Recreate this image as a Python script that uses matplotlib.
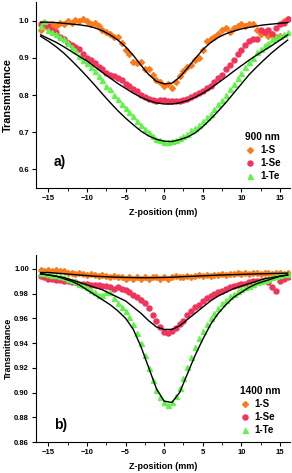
import numpy as np
import matplotlib
matplotlib.use('Agg')
import matplotlib.pyplot as plt

plt.rcParams['font.family'] = ['Liberation Sans', 'DejaVu Sans']

#scan positions (mm)
z_data = np.arange(-16, 16.01, 0.5)
z_fit = np.arange(-16, 16.01, 1.0)

#900 nm measured points
s900 = [0.975, 0.985, 0.98, 0.99, 0.985, 0.995, 0.99, 1.0, 0.995, 1.002, 0.998, 1.005, 1.0,
        0.99, 0.995, 0.985, 0.975, 0.97, 0.965, 0.955, 0.955, 0.94, 0.92, 0.91, 0.89, 0.885,
        0.89, 0.87, 0.87, 0.855, 0.84, 0.835, 0.825, 0.83, 0.82, 0.835, 0.85, 0.865, 0.875,
        0.88, 0.895, 0.9, 0.92, 0.945, 0.95, 0.955, 0.965, 0.975, 0.98, 0.97, 0.98, 0.985,
        0.99, 0.985, 0.99, 0.99, 0.975, 0.965, 0.97, 0.96, 0.965, 0.955, 0.96, 1.0, 1.005]
se900 = [0.99, 0.995, 0.985, 0.975, 0.97, 0.955, 0.95, 0.94, 0.935, 0.93, 0.925, 0.91, 0.9,
         0.895, 0.885, 0.875, 0.87, 0.86, 0.855, 0.85, 0.845, 0.84, 0.83, 0.825, 0.815, 0.81,
         0.8, 0.795, 0.79, 0.786, 0.785, 0.787, 0.786, 0.785, 0.783, 0.784, 0.785, 0.788, 0.79,
         0.795, 0.8, 0.805, 0.81, 0.818, 0.825, 0.835, 0.845, 0.855, 0.87, 0.88, 0.895, 0.91,
         0.92, 0.935, 0.945, 0.95, 0.95, 0.975, 0.97, 0.975, 0.965, 0.98, 0.99, 0.995, 1.005]
te900 = [0.985, 1.0, 0.975, 0.97, 0.965, 0.955, 0.95, 0.94, 0.93, 0.92, 0.905, 0.895, 0.885,
         0.875, 0.865, 0.85, 0.84, 0.825, 0.815, 0.8, 0.79, 0.775, 0.765, 0.755, 0.745, 0.73,
         0.72, 0.71, 0.7, 0.69, 0.683, 0.678, 0.675, 0.675, 0.677, 0.68, 0.685, 0.69, 0.695,
         0.705, 0.712, 0.72, 0.73, 0.74, 0.75, 0.762, 0.775, 0.787, 0.8, 0.815, 0.83, 0.845,
         0.86, 0.875, 0.89, 0.9, 0.915, 0.925, 0.935, 0.94, 0.95, 0.955, 0.96, 0.965, 0.97]

#900 nm fits
s900_fit = [0.996, 0.996, 0.995, 0.993, 0.991, 0.989, 0.986, 0.981, 0.973, 0.962, 0.948, 0.93,
            0.907, 0.88, 0.855, 0.837, 0.83, 0.832, 0.848, 0.872, 0.898, 0.922, 0.941, 0.955,
            0.965, 0.972, 0.978, 0.982, 0.986, 0.989, 0.991, 0.993, 0.995]
se900_fit = [0.962, 0.952, 0.942, 0.93, 0.917, 0.904, 0.892, 0.876, 0.861, 0.846, 0.831, 0.818,
             0.805, 0.794, 0.785, 0.779, 0.776, 0.776, 0.779, 0.785, 0.794, 0.805, 0.818, 0.833,
             0.848, 0.864, 0.879, 0.894, 0.908, 0.921, 0.934, 0.948, 0.962]
te900_fit = [0.958, 0.945, 0.93, 0.913, 0.893, 0.872, 0.85, 0.827, 0.803, 0.78, 0.758, 0.738,
             0.72, 0.703, 0.69, 0.681, 0.676, 0.675, 0.68, 0.687, 0.698, 0.715, 0.735, 0.757,
             0.78, 0.805, 0.83, 0.855, 0.876, 0.896, 0.915, 0.932, 0.948]

#1400 nm measured points
s1400 = [0.999, 0.998, 0.999, 0.998, 0.999, 0.998, 0.998, 0.997, 0.997, 0.996, 0.997, 0.996,
         0.995, 0.996, 0.995, 0.994, 0.995, 0.994, 0.993, 0.994, 0.993, 0.993, 0.992, 0.993,
         0.992, 0.993, 0.992, 0.993, 0.992, 0.993, 0.993, 0.992, 0.993, 0.992, 0.993, 0.994,
         0.993, 0.993, 0.994, 0.993, 0.994, 0.995, 0.994, 0.995, 0.994, 0.995, 0.995, 0.996,
         0.995, 0.996, 0.996, 0.997, 0.996, 0.997, 0.996, 0.997, 0.997, 0.996, 0.997, 0.997,
         0.996, 0.997, 0.997, 0.996, 0.997]
se1400 = [0.994, 0.993, 0.992, 0.992, 0.991, 0.991, 0.99, 0.99, 0.989, 0.989, 0.988, 0.988,
          0.988, 0.987, 0.987, 0.987, 0.986, 0.986, 0.985, 0.984, 0.985, 0.984, 0.983, 0.981,
          0.979, 0.977, 0.975, 0.972, 0.968, 0.963, 0.958, 0.953, 0.949, 0.948, 0.95, 0.952,
          0.955, 0.958, 0.963, 0.966, 0.969, 0.971, 0.974, 0.976, 0.978, 0.98, 0.981, 0.982,
          0.984, 0.985, 0.986, 0.987, 0.988, 0.988, 0.989, 0.99, 0.99, 0.99, 0.991, 0.989,
          0.985, 0.982, 0.99, 0.992, 0.993]
te1400 = [0.997, 0.997, 0.996, 0.995, 0.995, 0.994, 0.993, 0.992, 0.991, 0.99, 0.988, 0.987,
          0.985, 0.983, 0.981, 0.979, 0.979, 0.981, 0.981, 0.976, 0.972, 0.969, 0.966, 0.961,
          0.955, 0.948, 0.94, 0.93, 0.92, 0.91, 0.902, 0.896, 0.892, 0.89, 0.892, 0.897,
          0.904, 0.912, 0.921, 0.929, 0.937, 0.944, 0.95, 0.955, 0.96, 0.964, 0.968, 0.972,
          0.975, 0.978, 0.98, 0.982, 0.984, 0.985, 0.986, 0.988, 0.989, 0.99, 0.991, 0.992,
          0.993, 0.994, 0.995, 0.996, 0.996]

#1400 nm fits
s1400_fit = [0.997, 0.997, 0.9965, 0.996, 0.9955, 0.995, 0.9945, 0.994, 0.9937, 0.9934, 0.9932,
             0.993, 0.9929, 0.9928, 0.9928, 0.9929, 0.993, 0.9932, 0.9935, 0.9938, 0.994,
             0.9943, 0.9946, 0.9949, 0.9951, 0.9953, 0.9955, 0.9957, 0.9959, 0.996, 0.9962,
             0.9963, 0.9965]
se1400_fit = [0.996, 0.995, 0.994, 0.993, 0.991, 0.989, 0.987, 0.985, 0.983, 0.98, 0.977, 0.974,
              0.969, 0.964, 0.958, 0.953, 0.951, 0.951, 0.954, 0.959, 0.964, 0.969, 0.974,
              0.978, 0.981, 0.984, 0.986, 0.988, 0.99, 0.992, 0.993, 0.994, 0.995]
te1400_fit = [0.996, 0.995, 0.994, 0.992, 0.99, 0.987, 0.983, 0.979, 0.975, 0.971, 0.966, 0.96,
              0.951, 0.937, 0.92, 0.903, 0.893, 0.892, 0.9, 0.915, 0.93, 0.943, 0.955, 0.964,
              0.971, 0.977, 0.981, 0.985, 0.988, 0.99, 0.992, 0.994, 0.995]

samples = ['1-S', '1-Se', '1-Te']
colors = ['#fb7a1c', '#f0345c', '#62f24c']
markers = ['D', 'o', '^']
msizes = [3.0, 3.6, 3.6]

fig = plt.figure(figsize=(2.92, 4.73), dpi=100)
ax1 = fig.add_axes([0.1233, 0.6025, 0.87, 0.393])
ax2 = fig.add_axes([0.1233, 0.0655, 0.87, 0.395])

def draw(ax, data, fits, wl, tag, tag_y, ylab_size):
    for i in range(3):
        ax.plot(z_data, data[i], ls='none', marker=markers[i], ms=msizes[i],
                color=colors[i], mec=colors[i], label=samples[i], zorder=2 + i)
    for f in fits:
        ax.plot(z_fit, f, color='black', lw=1.0, zorder=6)
    leg = ax.legend(loc='lower right', frameon=False, title=wl,
                    prop={'weight': 'bold', 'size': 7}, handletextpad=0.5,
                    labelspacing=0.3, borderaxespad=0.3, handlelength=1.0,
                    bbox_to_anchor=(0.99, 0.0))
    leg.get_title().set_fontweight('bold')
    leg.get_title().set_fontsize(7.3)
    leg._legend_box.align = 'left'
    ax.text(-14.3, tag_y, tag, fontsize=10, fontweight='bold', va='center')
    ax.set_xlim(-16.6, 16.3)
    ax.set_xticks([-15, -10, -5, 0, 5, 10, 15])
    ax.set_xticks(np.arange(-12.5, 15, 5), minor=True)
    ax.spines['top'].set_visible(False)
    ax.spines['right'].set_visible(False)
    ax.tick_params(direction='out', length=3, width=0.8, labelsize=5.5, pad=2)
    ax.tick_params(which='minor', direction='out', length=2, width=0.6)
    for lab in ax.get_xticklabels() + ax.get_yticklabels():
        lab.set_fontweight('bold')
    ax.set_xlabel('Z-position (mm)', fontsize=6.5, fontweight='bold', labelpad=4)
    ax.set_ylabel('Transmittance', fontsize=ylab_size, fontweight='bold', va='center')
    ax.yaxis.set_label_coords(-0.11, 0.5)

ax1.set_ylim(0.55, 1.05)
ax1.set_yticks([0.6, 0.7, 0.8, 0.9, 1.0])
ax1.set_yticklabels(['0.6', '0.7', '0.8', '0.9', '1.0'])
draw(ax1, [s900, se900, te900], [s900_fit, se900_fit, te900_fit], '900 nm', 'a)', 0.62, 7.8)

ax2.set_ylim(0.86, 1.011)
ax2.set_yticks([0.86, 0.88, 0.90, 0.92, 0.94, 0.96, 0.98, 1.00])
ax2.set_yticklabels(['0.86', '0.88', '0.90', '0.92', '0.94', '0.96', '0.98', '1.00'])
draw(ax2, [s1400, se1400, te1400], [s1400_fit, se1400_fit, te1400_fit], '1400 nm', 'b)', 0.874, 6.5)

fig.savefig('out.png', dpi=100)
